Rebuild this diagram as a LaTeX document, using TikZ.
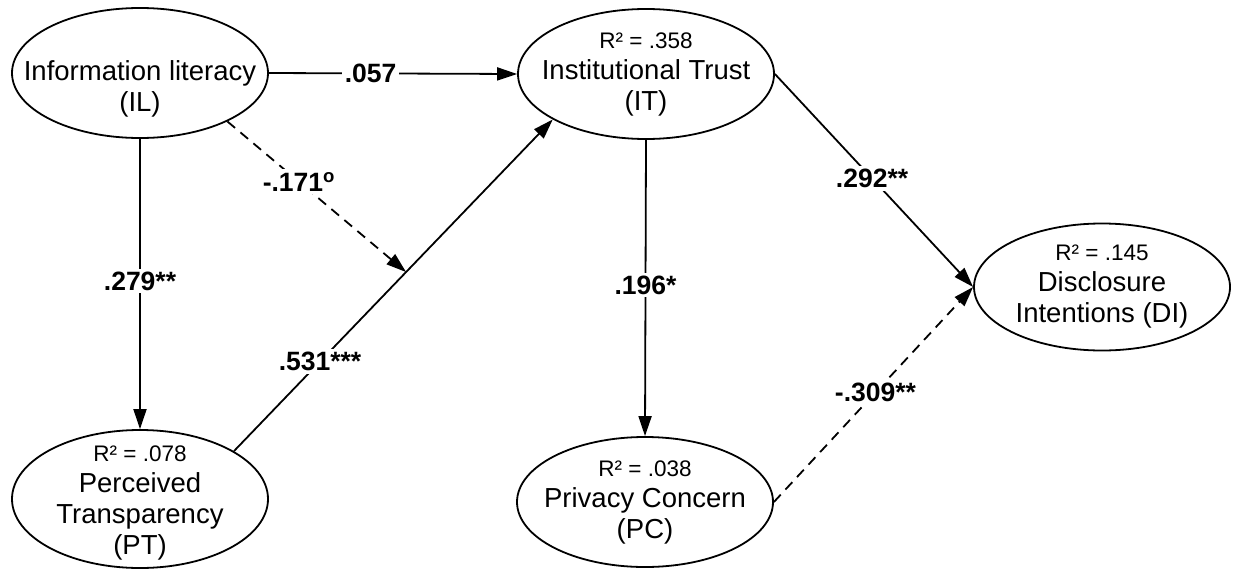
\documentclass[tikz,border=0pt]{standalone}
\usepackage{fontspec}
\setmainfont{Liberation Sans}
\usetikzlibrary{shapes.geometric,arrows.meta}
\begin{document}
\begin{tikzpicture}[x=1pt,y=-1pt,
  construct/.style={ellipse,draw,fill=white,line width=1.8pt,minimum width=256pt,
    minimum height=130pt,inner xsep=-70pt,inner ysep=-25pt,align=center,
    font=\fontsize{27.5}{31}\selectfont},
  link/.style={line width=1.8pt,-{Triangle[length=20pt,width=13pt]}},
  dashlink/.style={link,dash pattern=on 10pt off 7pt},
  coef/.style={fill=white,inner sep=3pt,font=\fontsize{26.5}{30}\selectfont\bfseries}
]
\newcommand{\rsqline}[1]{{\fontsize{22.5}{31}\selectfont R² = #1}}
\fill[white] (0,0) rectangle (1233,570);
\useasboundingbox (0,0) rectangle (1233,570);

% constructs (the strut on a first line lowers the text block inside the ellipse)
\node[construct] (IL) at (140,73) {\rule{0pt}{52pt}Information literacy\\(IL)};
\node[construct] (IT) at (646,74) {\rsqline{.358}\\Institutional Trust\\(IT)};
\node[construct,minimum height=138pt] (PT) at (140,499) {\rule{0pt}{24pt}\rsqline{.078}\\Perceived\\Transparency\\(PT)};
\node[construct] (PC) at (645,502) {\rsqline{.038}\\Privacy Concern\\(PC)};
\node[construct,minimum height=127pt] (DI) at (1102,287) {\rsqline{.145}\\Disclosure\\Intentions (DI)};

% structural paths
\draw[link] (IL.east) -- node[coef,pos=0.41]{.057} (IT.west);
\draw[link] (IL.south) -- node[coef,pos=0.49]{.279**} (PT.north);
\draw[link] (PT.27) -- node[coef,pos=0.27]{.531***} coordinate[pos=0.54] (m) (IT.206);
\draw[dashlink] (IL.-29) -- node[coef,pos=0.40]{-.171\textsuperscript{o}} (m);
\draw[link] (IT.south) -- node[coef,pos=0.49]{.196*} (PC.north);
\draw[link] (IT.east) -- node[coef,pos=0.49]{.292**} (DI.west);
\draw[dashlink] (PC.east) -- node[coef,pos=0.51]{-.309**} (DI.west);
\end{tikzpicture}
\end{document}
